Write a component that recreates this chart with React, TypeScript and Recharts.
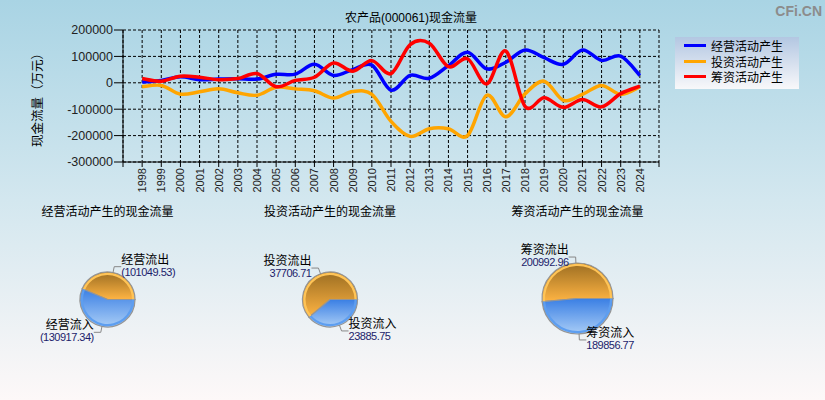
import { LineChart, Line, XAxis, YAxis, CartesianGrid, PieChart, Pie, Cell } from 'recharts'

const years = [1998, 1999, 2000, 2001, 2002, 2003, 2004, 2005, 2006, 2007, 2008, 2009, 2010, 2011, 2012, 2013, 2014, 2015, 2016, 2017, 2018, 2019, 2020, 2021, 2022, 2023, 2024]
// 经营 / 投资 / 筹资 (万元)
const operating = [3000, 9000, 23000, 12000, 14000, 15000, 14000, 32000, 33000, 70000, 28000, 50000, 67000, -28000, 28000, 17000, 65000, 116000, 53000, 78000, 124000, 95000, 70000, 124000, 85000, 101000, 28000]
const investing = [-15000, -10000, -43000, -34000, -23000, -38000, -47000, -17000, -23000, -30000, -58000, -33000, -44000, -146000, -203000, -174000, -174000, -200000, -47000, -129000, -42000, 6000, -66000, -44000, -10000, -44000, -15000]
const financing = [16000, 6000, 25000, 21000, 12000, 16000, 35000, -15000, 9000, 21000, 75000, 44000, 84000, 35000, 145000, 150000, 61000, 91000, -4000, 120000, -89000, -57000, -93000, -63000, -91000, -41000, -13000]

const xTicks = [1997, ...years, 2025]
const yTicks = [200000, 100000, 0, -100000, -200000, -300000]

const seriesKeys = ['op', 'inv', 'fin']
const seriesNames = ['经营活动产生', '投资活动产生', '筹资活动产生']
const seriesColors = ['#0000ff', '#ffa500', '#ff0000']

const opFlow = [
  { name: '经营流出', value: 101049.53 },
  { name: '经营流入', value: 130917.34 },
]
const invFlow = [
  { name: '投资流出', value: 37706.71 },
  { name: '投资流入', value: 23885.75 },
]
const finFlow = [
  { name: '筹资流出', value: 200992.96 },
  { name: '筹资流入', value: 189856.77 },
]
const pieTitles = ['经营活动产生的现金流量', '投资活动产生的现金流量', '筹资活动产生的现金流量']

const FONT = '"Liberation Sans", Arial, "Noto Sans CJK SC", sans-serif'

// catmull-rom so the curve passes through every point, like the original
const catmullRom = (context: any) => {
  let pts: number[][] = []
  return {
    areaStart() {},
    areaEnd() {},
    lineStart() { pts = [] },
    point(x: number, y: number) { pts.push([+x, +y]) },
    lineEnd() {
      if (!pts.length) return
      context.moveTo(pts[0][0], pts[0][1])
      for (let i = 0; i < pts.length - 1; i++) {
        const p0 = pts[i - 1] || pts[i]
        const p1 = pts[i]
        const p2 = pts[i + 1]
        const p3 = pts[i + 2] || p2
        context.bezierCurveTo(
          p1[0] + (p2[0] - p0[0]) / 6, p1[1] + (p2[1] - p0[1]) / 6,
          p2[0] - (p3[0] - p1[0]) / 6, p2[1] - (p3[1] - p1[1]) / 6,
          p2[0], p2[1]
        )
      }
    },
  }
}

const YearTick = (props: any) => {
  const { x, y, payload } = props
  if (payload.value === 1997 || payload.value === 2025) return null
  return (
    <text x={x} y={y} transform={`rotate(-90, ${x}, ${y})`} textAnchor="end" dominantBaseline="central"
      fontSize={11} fill="#222" fontFamily={FONT}>
      {payload.value}
    </text>
  )
}

const RAD = Math.PI / 180

const makeLabel = (paren: boolean) => (props: any) => {
  const { cx, cy, midAngle, outerRadius, name, value } = props
  const cos = Math.cos(-midAngle * RAD)
  const sin = Math.sin(-midAngle * RAD)
  const ex = cx + outerRadius * cos
  const ey = cy + outerRadius * sin
  const mx = cx + (outerRadius + 6) * cos
  const my = cy + (outerRadius + 6) * sin
  const right = cos >= 0
  const tx = mx + (right ? 7 : -7)
  const anchor = right ? 'start' : 'end'
  const v = value.toFixed(2)
  return (
    <g>
      <polyline points={`${ex},${ey} ${mx},${my} ${tx},${my}`} fill="none" stroke="#888" strokeWidth={1} />
      <text x={tx} y={my - 3} textAnchor={anchor} fontSize={12} fill="#000" fontFamily={FONT}>{name}</text>
      <text x={tx} y={my + 9} textAnchor={anchor} fontSize={11} letterSpacing={-0.5} fill="#1c1c6b" fontFamily={FONT}>
        {paren ? `(${v})` : v}
      </text>
    </g>
  )
}

const pies = [
  { data: opFlow, cx: 107.5, cy: 99.5, r: 27.5, paren: true },
  { data: invFlow, cx: 330, cy: 99.5, r: 27.5, paren: false },
  { data: finFlow, cx: 577.5, cy: 98.5, r: 35.5, paren: false },
]

export default function App() {
  const chartData = years.map((year, i) => ({
    year,
    op: operating[i],
    inv: investing[i],
    fin: financing[i],
  }))

  return (
    <div style={{
      position: 'relative', width: 825, height: 400, overflow: 'hidden', fontFamily: FONT,
      background: 'linear-gradient(to bottom, #a9d4e4 0%, #d3e7ef 50%, #fdf8f8 100%)',
    }}>
      <style>{'body{margin:0}'}</style>

      <div style={{ position: 'absolute', left: 0, top: 0 }}>
        <LineChart width={825} height={200} data={chartData} margin={{ top: 30, right: 166, bottom: 0, left: 0 }}>
          <CartesianGrid stroke="#000" strokeDasharray="3 2" />
          <XAxis dataKey="year" type="number" domain={[1997, 2025]} ticks={xTicks} interval={0}
            height={38} tickSize={5} tickMargin={1} stroke="#000" tick={<YearTick />} />
          <YAxis type="number" domain={[-300000, 200000]} ticks={yTicks} interval={0} width={123}
            tickSize={9} tickMargin={1} stroke="#000"
            tick={{ fontSize: 12.5, fill: '#222', fontFamily: FONT }} />
          {seriesKeys.map((k, i) => (
            <Line key={k} dataKey={k} name={seriesNames[i]} type={catmullRom as any}
              stroke={seriesColors[i]} strokeWidth={3.5} dot={false} activeDot={false}
              isAnimationActive={false} />
          ))}
        </LineChart>
      </div>

      <div style={{ position: 'absolute', left: 0, top: 200 }}>
        <PieChart width={825} height={200} margin={{ top: 0, right: 0, bottom: 0, left: 0 }}>
          <defs>
            <linearGradient id="gOrange" x1="0" y1="0" x2="0" y2="1">
              <stop offset="0%" stopColor="#9c6e22" />
              <stop offset="100%" stopColor="#ffb443" />
            </linearGradient>
            <linearGradient id="gBlue" x1="0" y1="0" x2="0" y2="1">
              <stop offset="0%" stopColor="#3a7fe4" />
              <stop offset="100%" stopColor="#a9cdf6" />
            </linearGradient>
          </defs>
          {pies.map((p, i) => (
            <Pie key={`m${i}`} data={p.data} dataKey="value" nameKey="name" cx={p.cx} cy={p.cy}
              outerRadius={p.r} startAngle={0} endAngle={360} stroke="#959595" strokeWidth={1.2}
              label={makeLabel(p.paren)} labelLine={false} isAnimationActive={false}>
              <Cell fill="url(#gOrange)" />
              <Cell fill="url(#gBlue)" />
            </Pie>
          ))}
          {pies.map((p, i) => (
            <Pie key={`r${i}`} data={p.data} dataKey="value" nameKey="name" cx={p.cx} cy={p.cy}
              innerRadius={p.r - 3} outerRadius={p.r - 0.8} startAngle={0} endAngle={360}
              stroke="none" isAnimationActive={false}>
              <Cell fill="#ffc457" />
              <Cell fill="#5d9ef0" />
            </Pie>
          ))}
        </PieChart>
      </div>

      <svg width={825} height={400} style={{ position: 'absolute', left: 0, top: 0, pointerEvents: 'none' }}>
        <text x={411} y={22} textAnchor="middle" fontSize={12} fill="#000" fontFamily={FONT}>农产品(000061)现金流量</text>
        <text x={38} y={97} transform="rotate(-90, 38, 97)" textAnchor="middle" dominantBaseline="central"
          fontSize={12.5} fill="#000" fontFamily={FONT}>现金流量（万元）</text>
        <text x={822} y={16} textAnchor="end" fontSize={14} fontWeight="bold" fill="#8c8c8c" fontFamily={FONT}>CFi.CN</text>
        {pies.map((p, i) => (
          <text key={i} x={p.cx} y={216} textAnchor="middle" fontSize={12} fill="#000" fontFamily={FONT}>{pieTitles[i]}</text>
        ))}
      </svg>

      <div style={{
        position: 'absolute', left: 675, top: 37, width: 124, height: 52,
        background: 'linear-gradient(to bottom, #b3c7e2, #f8f8fa)', fontSize: 12,
      }}>
        {seriesNames.map((n, i) => (
          <div key={n} style={{ position: 'absolute', left: 9, top: 1 + i * 15.5, height: 15, display: 'flex', alignItems: 'center' }}>
            <div style={{ width: 22, height: 3, background: seriesColors[i], marginRight: 5 }} />
            <span style={{ color: '#000', whiteSpace: 'nowrap' }}>{n}</span>
          </div>
        ))}
      </div>
    </div>
  )
}
